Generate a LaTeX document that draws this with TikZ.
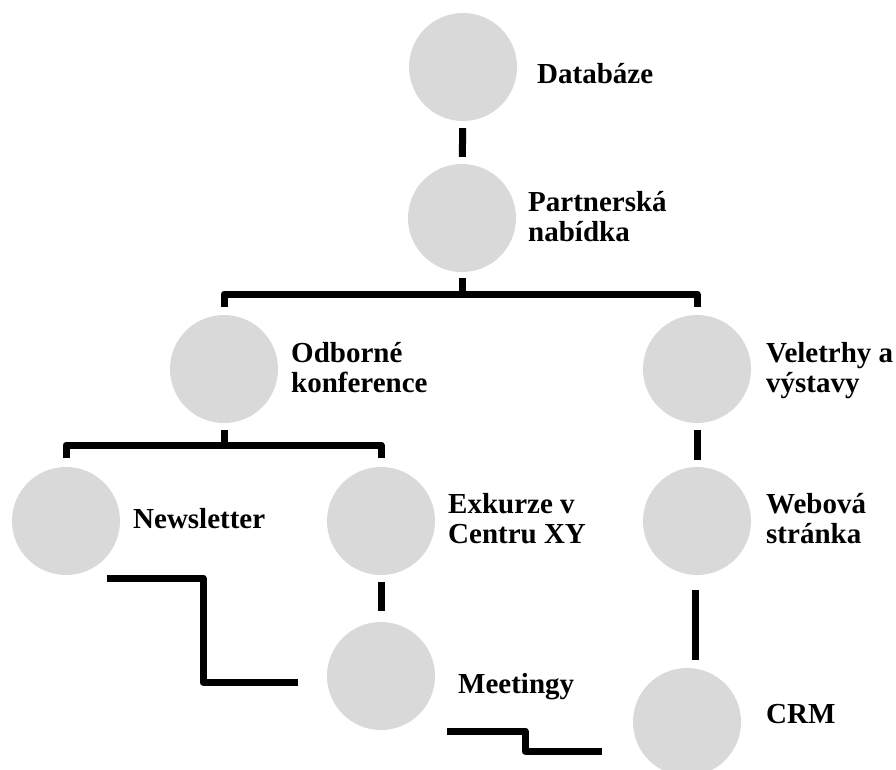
\documentclass[tikz,border=0pt]{standalone}
\usepackage{fontspec}
\setmainfont{Liberation Serif}
\definecolor{bubblegray}{HTML}{D9D9D9}
\tikzset{
  bubble/.style={circle, fill=bubblegray, minimum size=108pt, inner sep=0pt},
  lbl/.style={anchor=base west, align=left, inner sep=0pt,
    font=\bfseries\fontsize{29}{30}\selectfont},
  link/.style={line width=7pt, line join=round},
}
\begin{document}
\begin{tikzpicture}[x=1pt,y=-1pt]
\useasboundingbox (0,0) rectangle (896,769);

%BUBBLES
\node[bubble] (db) at (463,67) {};
\node[bubble] (pn) at (462,218) {};
\node[bubble] (ok) at (224,369) {};
\node[bubble] (vv) at (697,369) {};
\node[bubble] (nl) at (66,521) {};
\node[bubble] (ex) at (381,521) {};
\node[bubble] (wb) at (697,521) {};
\node[bubble] (mt) at (381,676) {};
\node[bubble] (crm) at (687,722) {};

%LABELS (base = last line)
\node[lbl] (dbt) at (537,83) {Databáze};
\node[lbl] (pnt) at (528,241) {Partnerská\\nabídka};
\node[lbl] (okt) at (291,392) {Odborné\\konference};
\node[lbl] (vvt) at (766,392) {Veletrhy a\\výstavy};
\node[lbl] (nlt) at (133,528) {Newsletter};
\node[lbl] (ext) at (448,543) {Exkurze v\\Centru XY};
\node[lbl] (wbt) at (766,543) {Webová\\stránka};
\node[lbl] (mtt) at (458,693) {Meetingy};
\node[lbl] (crmt) at (766,723) {CRM};

%LINKS
% straight
\draw[link, shorten <=7pt, shorten >=7pt] (db) -- (pn);
\draw[link, shorten <=7pt, shorten >=7pt] (vv) -- (wb);
\draw[link, shorten <=7pt, shorten >=11pt] (ex) -- (mt);
\draw[link] ([xshift=-2pt,yshift=-15pt]wb.south) -- ++(0,70);
% branches
\coordinate (bar1) at (462,294);
\draw[link] ([yshift=-6pt]pn.south) -- (bar1);
\draw[link] ([yshift=8pt]ok.north) |- (bar1) -| ([yshift=8pt]vv.north);
\coordinate (bar2) at (224,445);
\draw[link] ([yshift=-7pt]ok.south) -- (bar2);
\draw[link] ([yshift=9pt]nl.north) |- (bar2) -| ([yshift=9pt]ex.north);
% steps
\coordinate (nlout) at (107,578);
\coordinate (mtin) at (298,682);
\draw[link] (nlout) -- ++(96,0) |- (mtin);
\coordinate (mtout) at (447,731);
\coordinate (crmin) at (602,751);
\draw[link] (mtout) -- ++(78,0) |- (crmin);

\end{tikzpicture}
\end{document}
